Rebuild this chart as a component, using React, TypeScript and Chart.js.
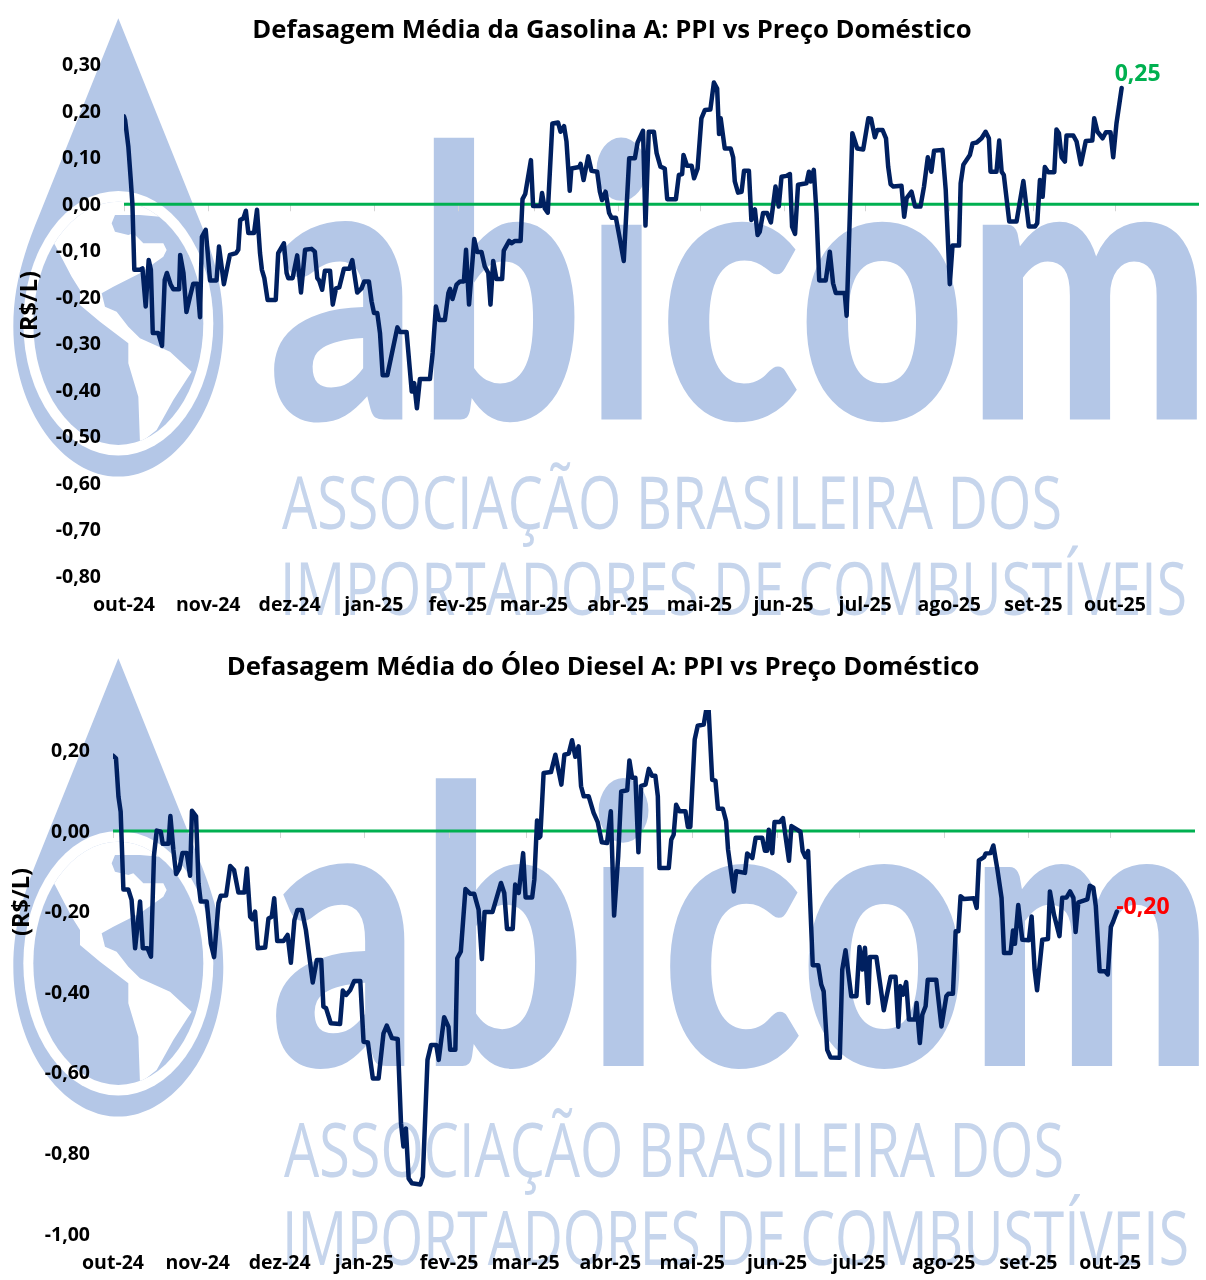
import React, { useEffect, useRef } from "react";
import { Chart, registerables } from "chart.js";

Chart.register(...registerables);

const monthDays = [0, 31, 61, 92, 123, 151, 182, 212, 243, 273, 304, 335, 365];
const monthLabels = ["out-24", "nov-24", "dez-24", "jan-25", "fev-25", "mar-25", "abr-25", "mai-25", "jun-25", "jul-25", "ago-25", "set-25", "out-25"];
const gasYTicks = [-0.8, -0.7, -0.6, -0.5, -0.4, -0.3, -0.2, -0.1, 0, 0.1, 0.2, 0.3];
const dieselYTicks = [-1, -0.8, -0.6, -0.4, -0.2, 0, 0.2];
const axisEndDay = 396;

const gasDays = [0, 0.4, 1.6, 2.5, 3.1, 3.8, 5.9, 6.8, 8, 9.1, 9.9, 10.6, 12.6, 14, 15, 15.8, 17.2, 18.2, 20.3, 20.7, 21.9, 23, 24.3, 25.5, 27, 28, 28.7, 30.1, 31.7, 34.1, 35, 36.8, 39, 41.3, 42.1, 42.8, 44, 44.9, 45.8, 47.9, 49, 50.1, 50.8, 51.7, 52.9, 55.9, 56.8, 58.9, 59.9, 60.5, 62.1, 63.8, 65.2, 66.7, 69.1, 70.3, 71.2, 71.9, 73, 74, 75.9, 76.9, 78.1, 79.3, 81, 83, 84.1, 85.9, 87.5, 88.5, 90.2, 91.2, 92.1, 93.3, 94.3, 95.3, 97, 100.7, 101.7, 104.1, 105.3, 106, 106.9, 107.9, 109, 112.7, 113.7, 114.9, 116.1, 118.2, 119.5, 120.1, 121, 122.5, 123.8, 125.2, 126, 127.1, 129, 130.1, 131.7, 132.9, 134.2, 135, 136, 137.2, 139.3, 139.9, 141.9, 142.7, 144, 146.1, 146.8, 147.8, 149.9, 150.7, 153.4, 154, 155, 156.1, 157.8, 159.9, 160.8, 162.1, 163, 164.2, 164.8, 167.7, 168.2, 169.3, 171, 172.2, 174.3, 175.3, 176.1, 177.4, 178.7, 179.6, 181.2, 182.6, 184.1, 186.1, 188.2, 189.2, 191.2, 192.1, 193.3, 195.2, 196.2, 197.6, 199.2, 200.1, 203.3, 204.4, 205.6, 206.1, 207.4, 209.1, 210, 211.3, 212.7, 214, 216, 217.3, 218.5, 219.2, 219.8, 221.3, 223.5, 224.4, 225, 226.2, 227.5, 228.4, 230.2, 231.1, 232.4, 233.4, 234.2, 235.4, 236.9, 238.3, 240, 241.2, 242.2, 244, 245.3, 246.1, 247.2, 248.3, 251.4, 252.3, 253, 254.1, 255.1, 256.1, 258.5, 260, 261.2, 262.2, 265.5, 266.2, 267.4, 268.3, 270.1, 272.3, 274.2, 275.2, 276.6, 277.5, 279.4, 280.7, 281.5, 282.4, 283.4, 286.4, 287.4, 288.3, 290.1, 291.4, 293.4, 294.7, 296.1, 297.4, 298.4, 301.5, 302.7, 304.2, 305.2, 307.6, 308.2, 309.2, 311.6, 312.6, 314.1, 315.9, 317.4, 318.6, 319.2, 321.4, 322.4, 323.3, 324.1, 326.1, 328.8, 331.3, 333.3, 335.6, 336.4, 337.4, 338.4, 339.2, 340.5, 342.7, 343.5, 344.4, 345.4, 346.6, 347.2, 349.7, 350.9, 352.5, 354.3, 356.7, 357.4, 358.6, 360.5, 361.7, 363.4, 364.4, 365.6, 367.5];
const gasValues = [0.189, 0.181, 0.124, 0.052, 0, -0.141, -0.141, -0.138, -0.22, -0.12, -0.141, -0.277, -0.277, -0.305, -0.163, -0.148, -0.173, -0.183, -0.183, -0.109, -0.148, -0.232, -0.199, -0.171, -0.171, -0.243, -0.07, -0.055, -0.164, -0.164, -0.091, -0.172, -0.109, -0.105, -0.098, -0.034, -0.03, -0.014, -0.062, -0.062, -0.012, -0.105, -0.141, -0.159, -0.206, -0.206, -0.105, -0.084, -0.148, -0.159, -0.159, -0.11, -0.19, -0.098, -0.096, -0.102, -0.159, -0.164, -0.184, -0.143, -0.143, -0.216, -0.181, -0.179, -0.139, -0.139, -0.12, -0.19, -0.181, -0.166, -0.166, -0.209, -0.234, -0.234, -0.277, -0.368, -0.368, -0.265, -0.275, -0.275, -0.356, -0.403, -0.385, -0.439, -0.376, -0.376, -0.32, -0.22, -0.249, -0.249, -0.191, -0.182, -0.204, -0.173, -0.166, -0.166, -0.098, -0.216, -0.075, -0.103, -0.103, -0.134, -0.148, -0.216, -0.122, -0.161, -0.161, -0.1, -0.079, -0.084, -0.079, -0.079, 0.011, 0.022, 0.095, -0.004, -0.004, 0.024, -0.009, -0.018, 0.174, 0.176, 0.156, 0.168, 0.135, 0.029, 0.077, 0.08, 0.087, 0.052, 0.103, 0.072, 0.07, 0.027, 0.009, 0.027, -0.019, -0.029, -0.029, -0.073, -0.122, 0.099, 0.099, 0.133, 0.158, -0.046, 0.156, 0.156, 0.11, 0.081, 0.077, 0.011, 0.011, 0.063, 0.065, 0.106, 0.083, 0.083, 0.056, 0.077, 0.185, 0.203, 0.204, 0.262, 0.249, 0.151, 0.185, 0.12, 0.12, 0.101, 0.049, 0.025, 0.027, 0.072, 0.072, -0.034, -0.011, -0.066, -0.059, -0.019, -0.019, -0.039, 0.038, -0.005, 0.059, 0.061, 0.065, -0.048, -0.064, 0.042, 0.045, 0.07, 0.049, 0.074, -0.019, -0.164, -0.164, -0.102, -0.17, -0.191, -0.191, -0.24, -0.019, 0.153, 0.12, 0.118, 0.185, 0.184, 0.144, 0.16, 0.16, 0.142, 0.081, 0.043, 0.038, 0.04, -0.027, 0.013, 0.027, -0.005, -0.005, 0.038, 0.101, 0.07, 0.115, 0.117, 0.031, -0.172, -0.089, -0.089, 0.045, 0.085, 0.106, 0.131, 0.133, 0.142, 0.156, 0.142, 0.07, 0.07, 0.137, 0.07, 0.063, -0.037, -0.037, 0.05, -0.048, -0.048, -0.041, 0.052, 0.016, 0.08, 0.069, 0.069, 0.161, 0.153, 0.101, 0.092, 0.148, 0.148, 0.135, 0.086, 0.136, 0.137, 0.185, 0.156, 0.142, 0.155, 0.155, 0.101, 0.174, 0.25];

const dieselDays = [0, 1.1, 2, 2.8, 3.8, 5.6, 6.8, 8.1, 9.9, 10.9, 12.6, 13.9, 15, 16, 17.5, 18.2, 20.3, 21, 22.1, 23.1, 24.3, 25.4, 27, 28.2, 28.9, 30.4, 31.3, 32.1, 34.3, 35.8, 37, 38.6, 39.4, 41.4, 42.9, 44.3, 45.9, 48.1, 49, 50.2, 51, 52, 53, 55.7, 56.9, 58.1, 59, 60.1, 62.4, 63.9, 65.1, 66.4, 67.5, 69.1, 70.6, 73.1, 74.6, 76.2, 77, 78, 79.7, 83.1, 84.1, 85.3, 86.8, 88.3, 90.5, 91.7, 93.3, 95.1, 97.2, 99, 100.2, 102.1, 104.2, 105.4, 106.3, 107.2, 108.2, 109.4, 112.5, 113.4, 115.1, 116.4, 118.3, 119.2, 121.2, 122.8, 123.4, 125.3, 126, 127.3, 129, 130.8, 132.2, 133.8, 135, 136, 138.9, 142, 143.2, 144.2, 146.3, 147.2, 148.5, 150.1, 151, 153.4, 154.2, 155.2, 155.9, 156.4, 157.6, 160.3, 161.9, 164.1, 165.2, 166.8, 168, 169.2, 170.4, 171.3, 172.3, 174.1, 175.9, 177.4, 178.9, 180.8, 182.2, 183.4, 184.9, 186, 188.2, 189, 190, 191.2, 192.3, 193.3, 194.9, 196.1, 197.3, 198.5, 199.4, 200, 203.4, 204.3, 205.2, 206.1, 207.3, 209.5, 210.4, 211.3, 212.9, 214, 216.2, 217.1, 218, 219.3, 220.5, 221.4, 223.2, 224.4, 225.1, 227.2, 228.1, 231.3, 232.1, 234, 235.2, 237.6, 238.6, 239.4, 240, 241.3, 242.1, 244, 245.2, 247.4, 248.3, 251.6, 252.4, 253.4, 254.4, 256.1, 258.1, 259.2, 260.1, 261.4, 262.6, 266, 266.9, 268.1, 270.2, 272.1, 273.2, 274.3, 275.2, 276.4, 277, 279.4, 282.1, 284.6, 286.4, 287.4, 288.2, 289.2, 290.3, 291.3, 293.5, 294.1, 295.3, 296.2, 297.4, 298.2, 301.3, 303.2, 305, 305.7, 307.4, 308.4, 309.4, 310.2, 311.4, 315.1, 316.1, 316.9, 318.8, 319.4, 321.2, 322.2, 323.6, 325.2, 326.1, 328.5, 329.4, 330.1, 331.3, 332.8, 335.2, 336.2, 337.3, 338.2, 340.1, 342.2, 342.9, 344.4, 346.4, 347.4, 349, 350.3, 351.5, 352.3, 353.3, 356.6, 357.5, 358.8, 359.7, 361.1, 363.1, 364.1, 365.2, 366.1, 367.4];
const dieselValues = [0.187, 0.18, 0.085, 0.048, -0.145, -0.145, -0.171, -0.291, -0.175, -0.291, -0.291, -0.312, -0.06, 0.001, -0.002, -0.032, -0.032, 0.037, -0.047, -0.107, -0.093, -0.055, -0.055, -0.111, 0.05, 0.036, -0.13, -0.175, -0.175, -0.279, -0.313, -0.179, -0.161, -0.16, -0.087, -0.097, -0.153, -0.153, -0.093, -0.213, -0.219, -0.2, -0.291, -0.289, -0.217, -0.213, -0.167, -0.273, -0.273, -0.258, -0.327, -0.221, -0.196, -0.196, -0.246, -0.376, -0.32, -0.32, -0.436, -0.44, -0.477, -0.479, -0.396, -0.407, -0.395, -0.372, -0.372, -0.523, -0.525, -0.614, -0.614, -0.502, -0.483, -0.514, -0.516, -0.725, -0.783, -0.738, -0.862, -0.874, -0.877, -0.858, -0.568, -0.531, -0.531, -0.568, -0.462, -0.486, -0.543, -0.543, -0.316, -0.299, -0.144, -0.156, -0.156, -0.195, -0.318, -0.201, -0.201, -0.129, -0.154, -0.243, -0.243, -0.133, -0.154, -0.055, -0.165, -0.165, -0.121, 0.026, -0.017, -0.013, 0.144, 0.146, 0.189, 0.115, 0.189, 0.192, 0.225, 0.184, 0.21, 0.111, 0.086, 0.086, 0.045, 0.022, -0.028, -0.03, 0.049, -0.21, -0.063, 0.098, 0.101, 0.175, 0.132, 0.132, -0.053, 0.112, 0.115, 0.154, 0.137, 0.137, 0.086, -0.092, -0.092, -0.022, -0.009, 0.065, 0.049, 0.049, 0.01, 0.01, 0.227, 0.261, 0.264, 0.3, 0.3, 0.127, 0.125, 0.055, 0.055, 0.024, -0.046, -0.15, -0.1, -0.104, -0.056, -0.067, -0.017, -0.017, -0.049, -0.049, 0.003, -0.055, 0.022, 0.022, 0.032, -0.074, 0.012, -0.002, -0.05, -0.065, -0.05, -0.333, -0.333, -0.381, -0.398, -0.543, -0.562, -0.563, -0.344, -0.296, -0.41, -0.41, -0.288, -0.344, -0.29, -0.427, -0.313, -0.313, -0.445, -0.362, -0.362, -0.486, -0.385, -0.406, -0.375, -0.468, -0.468, -0.427, -0.526, -0.456, -0.435, -0.369, -0.369, -0.485, -0.41, -0.404, -0.404, -0.249, -0.249, -0.162, -0.169, -0.167, -0.191, -0.073, -0.065, -0.056, -0.055, -0.036, -0.092, -0.166, -0.303, -0.303, -0.247, -0.28, -0.184, -0.27, -0.271, -0.212, -0.344, -0.395, -0.27, -0.268, -0.15, -0.208, -0.261, -0.166, -0.165, -0.15, -0.166, -0.251, -0.177, -0.17, -0.136, -0.141, -0.187, -0.348, -0.348, -0.356, -0.238, -0.224, -0.2];

const FONT = "'Open Sans', sans-serif";
const WM = "#b4c7e7";
const WM_LIGHT = "#c6d5ec";

type Cfg = {
  title: string; days: number[]; values: number[]; yTicks: number[];
  yMin: number; yMax: number; plotLeft: number; leftPad: number; rightPad: number;
  xAxisH: number; titlePad: { top: number; bottom: number };
  yTitleX: number; yTitleY: number; endText: string; endColor: string; endDx: number; endDy: number;
};

function makeChart(canvas: HTMLCanvasElement, c: Cfg) {
  const overlay = {
    id: "overlay",
    afterDatasetsDraw(chart: any) {
      const { ctx, scales } = chart;
      const zero = scales.y.getPixelForValue(0);
      ctx.save();
      ctx.globalCompositeOperation = "destination-over";
      ctx.strokeStyle = "#d4d4d4";
      ctx.lineWidth = 1;
      monthDays.forEach((d) => {
        const x = Math.round(scales.x.getPixelForValue(d)) + 0.5;
        ctx.beginPath();
        ctx.moveTo(x, zero);
        ctx.lineTo(x, zero + 7);
        ctx.stroke();
      });
      ctx.restore();
      ctx.save();
      ctx.fillStyle = "#000";
      ctx.font = `bold 23.5px ${FONT}`;
      ctx.textAlign = "center";
      ctx.textBaseline = "middle";
      ctx.translate(c.yTitleX, c.yTitleY);
      ctx.rotate(-Math.PI / 2);
      ctx.fillText("(R$/L)", 0, 0);
      ctx.restore();
      ctx.save();
      ctx.fillStyle = c.endColor;
      ctx.font = `bold 23px ${FONT}`;
      ctx.textAlign = "center";
      ctx.textBaseline = "middle";
      const n = c.days.length - 1;
      ctx.fillText(c.endText, scales.x.getPixelForValue(c.days[n]) + c.endDx, scales.y.getPixelForValue(c.values[n]) + c.endDy);
      ctx.restore();
    },
  };
  return new Chart(canvas, {
    type: "line",
    data: {
      datasets: [
        {
          data: c.days.map((d, i) => ({ x: d, y: c.values[i] })),
          borderColor: "#002060", borderWidth: 4.5, pointRadius: 0, tension: 0,
          borderJoinStyle: "round", borderCapStyle: "round", order: 0,
        },
        {
          data: [{ x: 0, y: 0 }, { x: axisEndDay, y: 0 }],
          borderColor: "#00b050", borderWidth: 3, pointRadius: 0, tension: 0, order: 1,
        },
      ],
    },
    options: {
      animation: false, responsive: false, maintainAspectRatio: false,
      layout: { padding: { left: c.leftPad, right: c.rightPad, top: 0, bottom: 0 } },
      plugins: {
        legend: { display: false }, tooltip: { enabled: false },
        title: {
          display: true, text: c.title, color: "#000", padding: c.titlePad,
          font: { family: FONT, weight: "bold", size: 25.7, lineHeight: 1.2 },
        },
      },
      scales: {
        x: {
          type: "linear", min: 0, max: axisEndDay,
          grid: { display: false, drawTicks: false }, border: { display: false },
          afterBuildTicks: (s: any) => { s.ticks = monthDays.map((v) => ({ value: v })); },
          afterFit: (s: any) => { s.height = c.xAxisH; },
          ticks: {
            autoSkip: false, maxRotation: 0, minRotation: 0, padding: 18, color: "#000",
            font: { family: FONT, weight: "bold", size: 19.5 },
            callback: (_v: any, i: number) => monthLabels[i],
          },
        },
        y: {
          min: c.yMin, max: c.yMax,
          grid: { display: false, drawTicks: false }, border: { display: false },
          afterBuildTicks: (s: any) => { s.ticks = c.yTicks.map((v) => ({ value: v })); },
          afterFit: (s: any) => { s.width = c.plotLeft - c.leftPad; },
          ticks: {
            padding: 23, labelOffset: 1, color: "#000",
            font: { family: FONT, weight: "bold", size: 19.5 },
            callback: (v: any) => Number(v).toFixed(2).replace(".", ","),
          },
        },
      },
    },
    plugins: [overlay],
  } as any);
}

type WmProps = {
  id: string; logoY: number; wordX: number; wordY: number; wordSize: number; wordLen: number;
  line1Y: number; line2Y: number; lineX: number; lineSize: number;
};

function Watermark({ id, logoY, wordX, wordY, wordSize, wordLen, line1Y, line2Y, lineX, lineSize }: WmProps) {
  return (
    <g>
      <g transform={`translate(0,${logoY}) scale(0.3333)`}>
        <clipPath id={id}>
          <ellipse cx="355" cy="940" rx="255" ry="365" />
        </clipPath>
        <path d="M355 25 L120 610 C70 730 40 830 40 950 C40 1200 190 1400 355 1400 C520 1400 670 1200 670 950 C670 830 640 730 590 610 Z" fill={WM} />
        <ellipse cx="355" cy="940" rx="285" ry="397" fill="#fff" />
        <ellipse cx="355" cy="940" rx="255" ry="365" fill={WM} />
        <path
          clipPath={`url(#${id})`}
          d="M0 500 L520 500 L510 625 L480 620 L420 615 L345 615 L335 640 L345 665 L385 675 L400 670 L430 700 L490 700 L500 720 L490 740 L420 790 L340 830 L305 850 L315 890 L350 905 L385 950 L420 985 L510 1025 L575 1085 L520 1170 L470 1260 L420 1300 L415 1160 L385 1060 L385 1000 L300 935 L240 885 L240 840 L215 800 L165 705 L100 600 Z"
          fill="#fff"
        />
      </g>
      <text x={wordX} y={wordY} fontFamily="Lato" fontWeight="900" fontSize={wordSize} fill={WM} textLength={wordLen} lengthAdjust="spacingAndGlyphs">abicom</text>
      <text x={lineX + 2} y={line1Y} fontFamily="'Open Sans'" fontSize={lineSize} fill={WM_LIGHT} textLength="780" lengthAdjust="spacingAndGlyphs">ASSOCIAÇÃO BRASILEIRA DOS</text>
      <text x={lineX} y={line2Y} fontFamily="'Open Sans'" fontSize={lineSize} fill={WM_LIGHT} textLength="907" lengthAdjust="spacingAndGlyphs">IMPORTADORES DE COMBUSTÍVEIS</text>
    </g>
  );
}

export default function App() {
  const gasRef = useRef<HTMLCanvasElement>(null);
  const dieselRef = useRef<HTMLCanvasElement>(null);
  useEffect(() => {
    const a = makeChart(gasRef.current!, {
      title: "Defasagem Média da Gasolina A: PPI vs Preço Doméstico",
      days: gasDays, values: gasValues, yTicks: gasYTicks, yMin: -0.8, yMax: 0.3,
      plotLeft: 124, leftPad: 25, rightPad: 7, xAxisH: 64, titlePad: { top: 15, bottom: 19 },
      yTitleX: 30, yTitleY: 305, endText: "0,25", endColor: "#00b050", endDx: 16, endDy: -14,
    });
    const b = makeChart(dieselRef.current!, {
      title: "Defasagem Média do Óleo Diesel A: PPI vs Preço Doméstico",
      days: dieselDays, values: dieselValues, yTicks: dieselYTicks, yMin: -1, yMax: 0.3,
      plotLeft: 113, leftPad: 11, rightPad: 11, xAxisH: 46, titlePad: { top: 12, bottom: 27.2 },
      yTitleX: 22, yTitleY: 262, endText: "-0,20", endColor: "#ff0000", endDx: 26, endDy: -4,
    });
    return () => { a.destroy(); b.destroy(); };
  }, []);
  return (
    <div style={{ position: "absolute", left: 0, top: 0, width: 1206, height: 1280, overflow: "hidden", background: "#fff" }}>
      <svg width={1206} height={1280} style={{ position: "absolute", left: 0, top: 0 }}>
        <Watermark id="globeA" logoY={10} wordX={268} wordY={419.5} wordSize={378} wordLen={944} line1Y={529} line2Y={615} lineX={280} lineSize={73} />
        <Watermark id="globeB" logoY={650} wordX={270} wordY={1066} wordSize={386} wordLen={944} line1Y={1177} line2Y={1265} lineX={282} lineSize={75} />
      </svg>
      <canvas ref={gasRef} width={1206} height={640} style={{ position: "absolute", left: 0, top: 0 }} />
      <canvas ref={dieselRef} width={1206} height={640} style={{ position: "absolute", left: 0, top: 640 }} />
    </div>
  );
}
